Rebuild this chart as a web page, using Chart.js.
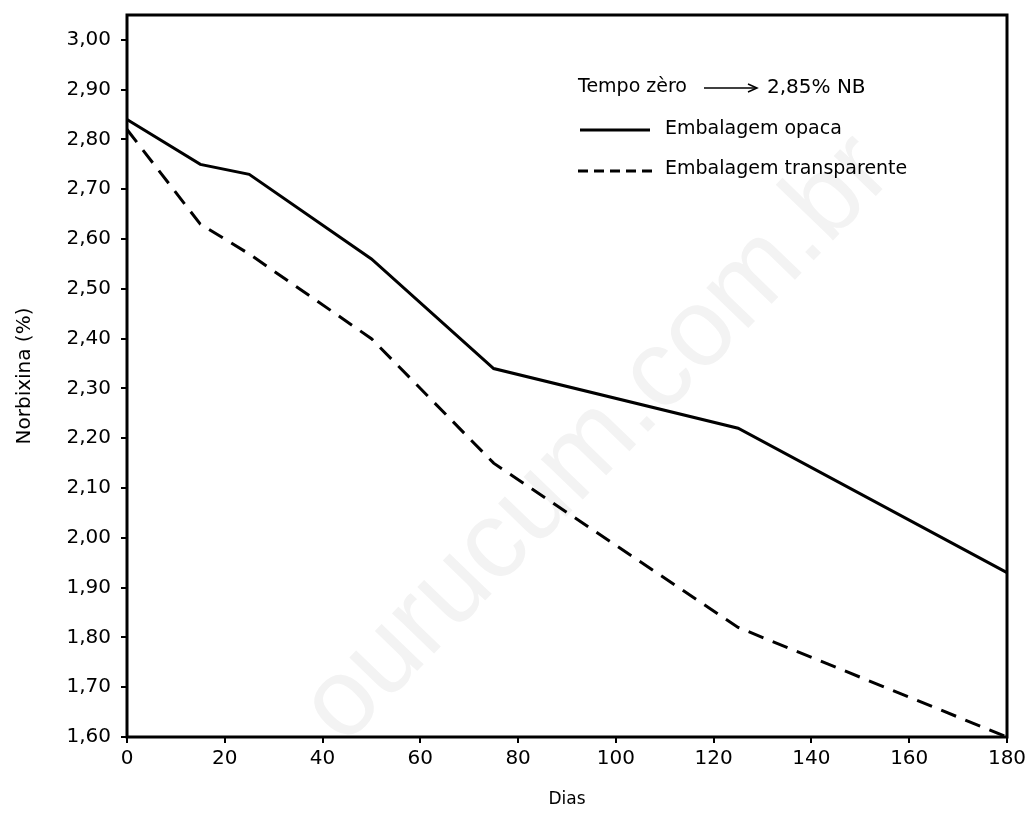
<!DOCTYPE html>
<html>
<head>
<meta charset="utf-8">
<script src="https://cdn.jsdelivr.net/npm/chart.js@4"></script>
<style>
  html, body { margin: 0; padding: 0; background: #fff; }
  #wrap { width: 1032px; height: 814px; position: relative; }
</style>
</head>
<body>
<div id="wrap"><canvas id="norbixina"></canvas></div>
<script>
// storage days and norbixin content (%)
var dias = [0, 15, 25, 50, 75, 125, 180];
var opaca = [2.84, 2.75, 2.73, 2.56, 2.34, 2.22, 1.93];
var transparente = [2.82, 2.63, 2.57, 2.40, 2.15, 1.82, 1.60];

var xTicks = [0, 20, 40, 60, 80, 100, 120, 140, 160, 180];
var yTicks = [1.6, 1.7, 1.8, 1.9, 2.0, 2.1, 2.2, 2.3, 2.4, 2.5, 2.6, 2.7, 2.8, 2.9, 3.0];

var legendTitle = 'Tempo zèro';
var legendValue = '2,85% NB';
var serieNames = ['Embalagem opaca', 'Embalagem transparente'];

var FONT = '"DejaVu Sans", sans-serif';

function toPoints(values) {
  return dias.map((d, i) => ({ x: d, y: values[i] }));
}

// faint diagonal watermark behind the lines
var watermark = {
  id: 'watermark',
  beforeDatasetsDraw(chart) {
    var ctx = chart.ctx;
    ctx.save();
    ctx.translate(598, 440);
    ctx.rotate(-46 * Math.PI / 180);
    ctx.font = '110px "Liberation Sans", sans-serif';
    ctx.fillStyle = '#f3f3f3';
    ctx.textAlign = 'center';
    ctx.textBaseline = 'middle';
    ctx.fillText('ourucum.com.br', 0, 0);
    ctx.restore();
  }
};

// frame round the plot plus the hand-placed key
var frameAndKey = {
  id: 'frameAndKey',
  afterDatasetsDraw(chart) {
    var ctx = chart.ctx;
    var a = chart.chartArea;
    ctx.save();
    ctx.strokeStyle = '#000';
    ctx.lineWidth = 3;
    ctx.strokeRect(a.left, a.top, a.right - a.left, a.bottom - a.top);

    ctx.fillStyle = '#000';
    ctx.font = '19px ' + FONT;
    ctx.textBaseline = 'middle';
    ctx.fillText(legendTitle, 578, 87);
    // arrow
    ctx.lineWidth = 1.5;
    ctx.beginPath();
    ctx.moveTo(704, 88);
    ctx.lineTo(756, 88);
    ctx.stroke();
    ctx.beginPath();
    ctx.moveTo(748, 84);
    ctx.lineTo(757, 88);
    ctx.lineTo(748, 92);
    ctx.stroke();
    ctx.font = '20px ' + FONT;
    ctx.fillText(legendValue, 767, 88);

    ctx.font = '19px ' + FONT;
    ctx.lineWidth = 3;
    ctx.beginPath();
    ctx.moveTo(580, 130);
    ctx.lineTo(650, 130);
    ctx.stroke();
    ctx.fillText(serieNames[0], 665, 129);

    ctx.setLineDash([10, 6]);
    ctx.beginPath();
    ctx.moveTo(578, 171);
    ctx.lineTo(652, 171);
    ctx.stroke();
    ctx.setLineDash([]);
    ctx.fillText(serieNames[1], 665, 169);
    ctx.restore();
  }
};

var ctx = document.getElementById('norbixina').getContext('2d');

new Chart(ctx, {
  type: 'line',
  data: {
    datasets: [
      {
        label: serieNames[0],
        data: toPoints(opaca),
        borderColor: '#000',
        borderWidth: 3,
        pointRadius: 0,
        tension: 0,
        clip: 6
      },
      {
        label: serieNames[1],
        data: toPoints(transparente),
        borderColor: '#000',
        borderWidth: 3,
        borderDash: [16, 10],
        pointRadius: 0,
        tension: 0,
        clip: 6
      }
    ]
  },
  options: {
    responsive: true,
    maintainAspectRatio: false,
    animation: false,
    layout: { padding: { top: 15, right: 25, left: 0, bottom: 0 } },
    plugins: {
      legend: { display: false },
      tooltip: { enabled: false }
    },
    scales: {
      x: {
        type: 'linear',
        min: 0,
        max: 180,
        afterBuildTicks: s => { s.ticks = xTicks.map(v => ({ value: v })); },
        afterFit: s => { s.height = 77; },
        border: { display: false },
        grid: { drawOnChartArea: false, color: '#000', lineWidth: 2, tickLength: 6 },
        ticks: {
          color: '#000',
          font: { family: FONT, size: 20 },
          padding: 4,
          maxRotation: 0,
          callback: v => String(v)
        },
        title: {
          display: true,
          text: 'Dias',
          color: '#000',
          font: { family: FONT, size: 17 },
          padding: { top: 0, bottom: 4 }
        }
      },
      y: {
        type: 'linear',
        min: 1.6,
        max: 3.05,
        afterBuildTicks: s => { s.ticks = yTicks.map(v => ({ value: v })); },
        afterFit: s => { s.width = 127; s.paddingTop = 0; s.paddingBottom = 0; },
        border: { display: false },
        grid: { drawOnChartArea: false, color: '#000', lineWidth: 2, tickLength: 6 },
        ticks: {
          color: '#000',
          font: { family: FONT, size: 20 },
          padding: 10,
          callback: v => v.toFixed(2).replace('.', ',')
        },
        title: {
          display: true,
          text: 'Norbixina (%)',
          color: '#000',
          font: { family: FONT, size: 20 },
          padding: { top: 13, bottom: 0 }
        }
      }
    }
  },
  plugins: [watermark, frameAndKey]
});
</script>
</body>
</html>
